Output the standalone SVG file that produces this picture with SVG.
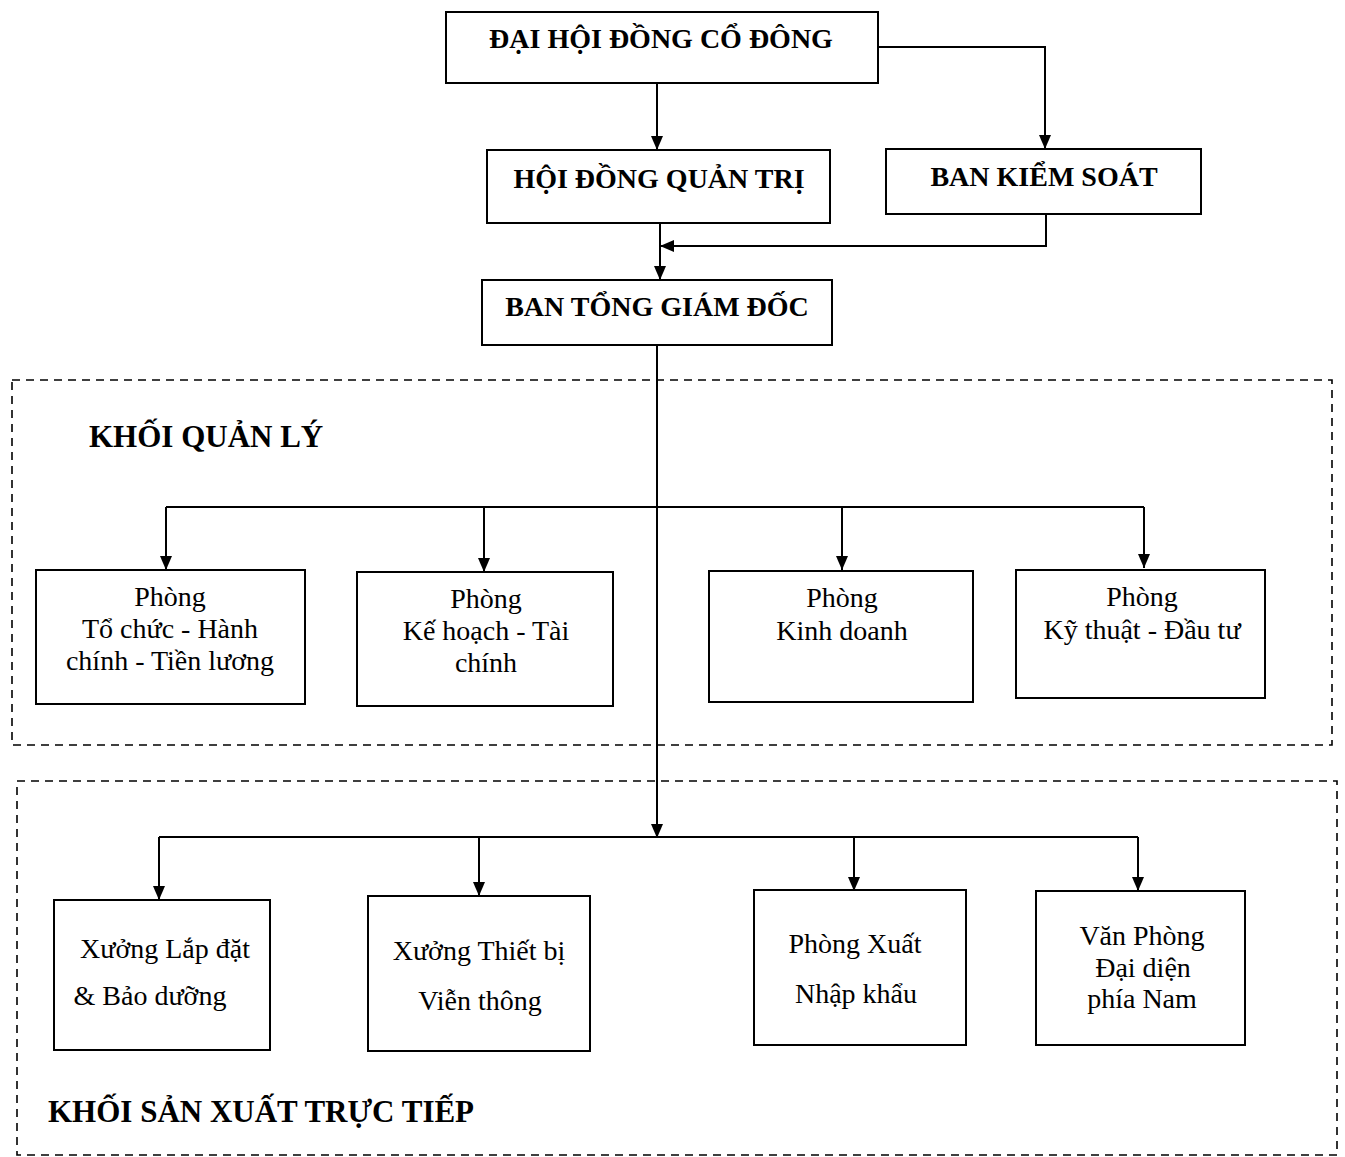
<svg xmlns="http://www.w3.org/2000/svg" width="1345" height="1157" viewBox="0 0 1345 1157">
<style>
.box{fill:#fff;stroke:#000;stroke-width:2}
.t{font-family:"Liberation Serif","Times New Roman",serif;font-size:28px;fill:#000;text-anchor:middle}
.b{font-weight:bold}
.s{font-size:31px;text-anchor:start}
.c{fill:none;stroke:#000;stroke-width:2}
.d{fill:none;stroke:#000;stroke-width:1.6;stroke-dasharray:8 6}
</style>
<defs>
<marker id="ah" viewBox="0 0 14 12" refX="14" refY="6" markerWidth="14" markerHeight="12" markerUnits="userSpaceOnUse" orient="auto">
<path d="M0,0 L14,6 L0,12 Z" fill="#000"/>
</marker>
</defs>
<rect width="1345" height="1157" fill="#fff"/>
<g id="groups">
<rect id="khoi-quan-ly" class="d" x="12" y="380" width="1320" height="365"/>
<rect id="khoi-san-xuat" class="d" x="17" y="781" width="1320" height="374"/>
<text class="t b s" x="89" y="447">KHỐI QUẢN LÝ</text>
<text class="t b s" x="48" y="1122">KHỐI SẢN XUẤT TRỰC TIẾP</text>
</g>
<g id="connectors">
<path class="c" d="M657,83 V150" marker-end="url(#ah)"/>
<path class="c" d="M878,47 H1045 V149" marker-end="url(#ah)"/>
<path class="c" d="M660,223 V280" marker-end="url(#ah)"/>
<path class="c" d="M1046,214 V246 H660" marker-end="url(#ah)"/>
<path class="c" d="M657,345 V838" marker-end="url(#ah)"/>
<path class="c" d="M166,507 H1144"/>
<path class="c" d="M166,507 V570" marker-end="url(#ah)"/>
<path class="c" d="M484,507 V572" marker-end="url(#ah)"/>
<path class="c" d="M842,507 V570" marker-end="url(#ah)"/>
<path class="c" d="M1144,507 V568" marker-end="url(#ah)"/>
<path class="c" d="M159,837 H1138"/>
<path class="c" d="M159,837 V900" marker-end="url(#ah)"/>
<path class="c" d="M479,837 V896" marker-end="url(#ah)"/>
<path class="c" d="M854,837 V891" marker-end="url(#ah)"/>
<path class="c" d="M1138,837 V891" marker-end="url(#ah)"/>
</g>
<g id="dai-hoi">
<rect class="box" x="446" y="12" width="432" height="71"/>
<text class="t b" x="661" y="48">ĐẠI HỘI ĐỒNG CỔ ĐÔNG</text>
</g>
<g id="hoi-dong-quan-tri">
<rect class="box" x="487" y="150" width="343" height="73"/>
<text class="t b" x="659" y="188">HỘI ĐỒNG QUẢN TRỊ</text>
</g>
<g id="ban-kiem-soat">
<rect class="box" x="886" y="149" width="315" height="65"/>
<text class="t b" x="1044" y="186">BAN KIỂM SOÁT</text>
</g>
<g id="ban-tong-giam-doc">
<rect class="box" x="482" y="280" width="350" height="65"/>
<text class="t b" x="657" y="316">BAN TỔNG GIÁM ĐỐC</text>
</g>
<g id="phong-tc">
<rect class="box" x="36" y="570" width="269" height="134"/>
<text class="t" x="170" y="606">Phòng</text>
<text class="t" x="170" y="638">Tổ chức - Hành</text>
<text class="t" x="170" y="670">chính - Tiền lương</text>
</g>
<g id="phong-kh">
<rect class="box" x="357" y="572" width="256" height="134"/>
<text class="t" x="486" y="608">Phòng</text>
<text class="t" x="486" y="640">Kế hoạch - Tài</text>
<text class="t" x="486" y="672">chính</text>
</g>
<g id="phong-kd">
<rect class="box" x="709" y="571" width="264" height="131"/>
<text class="t" x="842" y="607">Phòng</text>
<text class="t" x="842" y="640">Kinh doanh</text>
</g>
<g id="phong-kt">
<rect class="box" x="1016" y="570" width="249" height="128"/>
<text class="t" x="1142" y="606">Phòng</text>
<text class="t" x="1142" y="639">Kỹ thuật - Đầu tư</text>
</g>
<g id="xuong-lap-dat">
<rect class="box" x="54" y="900" width="216" height="150"/>
<text class="t" x="165" y="958">Xưởng Lắp đặt</text>
<text class="t" x="150" y="1005">&amp; Bảo dưỡng</text>
</g>
<g id="xuong-thiet-bi">
<rect class="box" x="368" y="896" width="222" height="155"/>
<text class="t" x="479" y="960">Xưởng Thiết bị</text>
<text class="t" x="480" y="1010">Viễn thông</text>
</g>
<g id="phong-xnk">
<rect class="box" x="754" y="890" width="212" height="155"/>
<text class="t" x="855" y="953">Phòng Xuất</text>
<text class="t" x="856" y="1003">Nhập khẩu</text>
</g>
<g id="van-phong">
<rect class="box" x="1036" y="891" width="209" height="154"/>
<text class="t" x="1142" y="945">Văn Phòng</text>
<text class="t" x="1143" y="977">Đại diện</text>
<text class="t" x="1142" y="1008">phía Nam</text>
</g>
</svg>
